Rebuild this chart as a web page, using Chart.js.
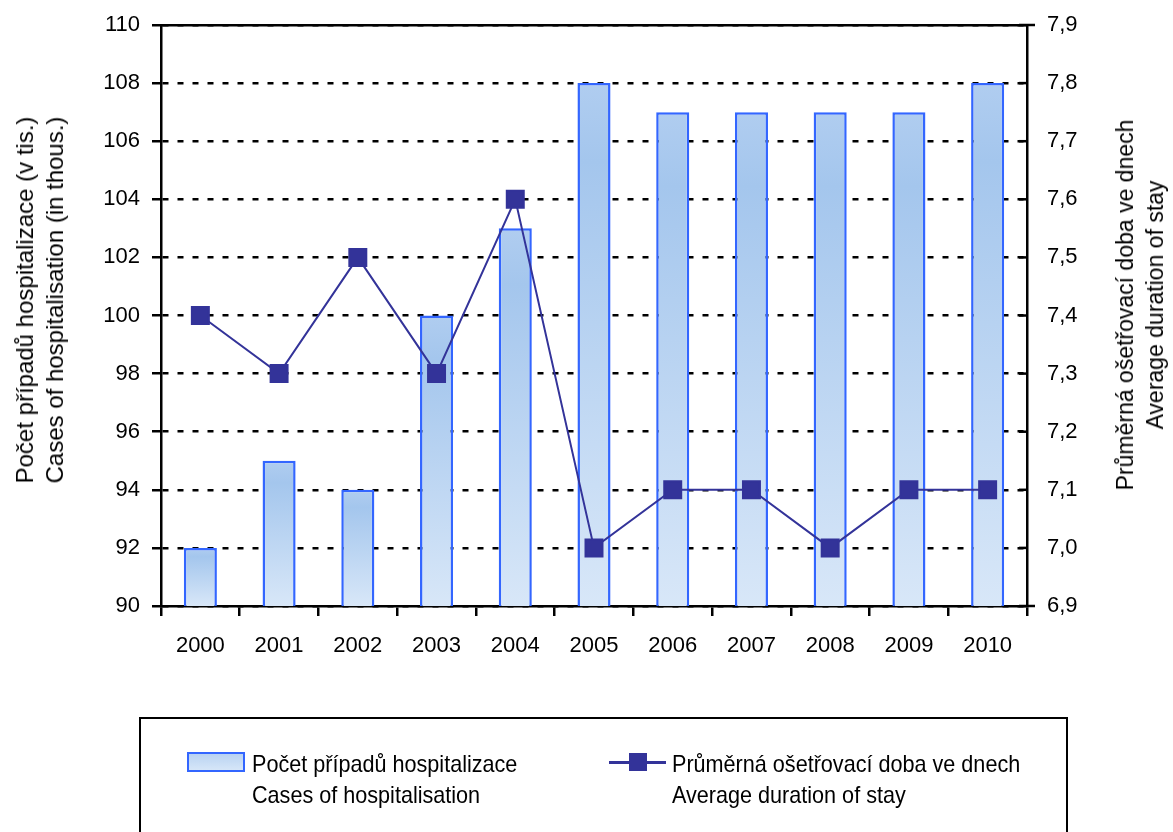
<!DOCTYPE html>
<html>
<head>
<meta charset="utf-8">
<script src="https://cdn.jsdelivr.net/npm/chart.js@4"></script>
<style>
  body { margin: 0; background: #fff; }
  #wrap { position: relative; width: 1173px; height: 832px; font-family: "Liberation Sans", Arial, sans-serif; color: #000; }
  #legend {
    position: absolute; left: 139px; top: 717px; width: 929px; height: 130px;
    border: 2px solid #000; box-sizing: border-box;
  }
  .item { position: absolute; top: 29px; line-height: 31px; font-size: 24px; white-space: nowrap; transform: scaleX(0.9); transform-origin: left top; }
  .sw { position: absolute; }
  .ytitle { position: absolute; white-space: nowrap; text-align: center; line-height: 30px; transform: translate(-50%, -50%) rotate(-90deg); }
</style>
</head>
<body>
<div id="wrap">
  <canvas id="chartHosp" width="1173" height="832"></canvas>
  <div class="ytitle" id="titleLeft" style="left:40px;top:300px;font-size:24px;"></div>
  <div class="ytitle" id="titleRight" style="left:1140px;top:305px;font-size:23px;"></div>
  <div id="legend">
    <div class="sw" style="left:46px;top:33px;width:54px;height:16px;border:2px solid #3366ff;background:linear-gradient(#b9d3f2,#d6e6f8);"></div>
    <div class="item" id="legCases" style="left:111px;"></div>
    <div class="sw" style="left:468px;top:42px;width:57px;height:3px;background:#333399;"></div>
    <div class="sw" style="left:488px;top:34px;width:18px;height:18px;background:#333399;"></div>
    <div class="item" id="legStay" style="left:531px;"></div>
  </div>
</div>
<script>
/* Hospitalizace */
const years = ['2000', '2001', '2002', '2003', '2004', '2005', '2006', '2007', '2008', '2009', '2010'];
const cases = [92, 95, 94, 100, 103, 108, 107, 107, 107, 107, 108];
const avgStay = [7.4, 7.3, 7.5, 7.3, 7.6, 7.0, 7.1, 7.1, 7.0, 7.1, 7.1];
const casesTitle = ['Počet případů hospitalizace (v tis.)', 'Cases of hospitalisation (in thous.)'];
const stayTitle = ['Průměrná ošetřovací doba ve dnech', 'Average duration of stay'];
const casesLegend = ['Počet případů hospitalizace', 'Cases of hospitalisation'];
const stayLegend = ['Průměrná ošetřovací doba ve dnech', 'Average duration of stay'];

document.getElementById('titleLeft').innerHTML = casesTitle.join('<br>');
document.getElementById('titleRight').innerHTML = stayTitle.join('<br>');
document.getElementById('legCases').innerHTML = casesLegend.join('<br>');
document.getElementById('legStay').innerHTML = stayLegend.join('<br>');

Chart.defaults.font.family = '"Liberation Sans", Arial, sans-serif';
Chart.defaults.font.size = 22;
Chart.defaults.color = '#000';

barFill = (c) => {
  const chart = c.chart;
  const y = chart.scales.y;
  if (!y || c.raw === undefined) return '#c0d8f4';
  const top = y.getPixelForValue(c.raw);
  const bottom = y.getPixelForValue(y.min);
  if (!isFinite(top) || !isFinite(bottom) || top === bottom) return '#c0d8f4';
  const g = chart.ctx.createLinearGradient(0, top, 0, bottom);
  g.addColorStop(0, '#b0cdf0');
  g.addColorStop(0.15, '#a4c6ed');
  g.addColorStop(1, '#d8e7f8');
  return g;
};

/* marcas del eje derecho (hacia dentro, las extremas cruzan) */
rightTicks = {
  id: 'rightTicks',
  afterDraw: (chart) => {
    const s = chart.scales.y1;
    const c = chart.ctx;
    c.save();
    c.strokeStyle = '#000';
    c.lineWidth = 2.5;
    s.ticks.forEach((t, i) => {
      const py = s.getPixelForValue(t.value);
      const edge = i === 0 || i === s.ticks.length - 1;
      c.beginPath();
      c.moveTo(s.left - 8, py);
      c.lineTo(s.left + (edge ? 8 : 0), py);
      c.stroke();
    });
    c.restore();
  },
};

const ctx = document.getElementById('chartHosp').getContext('2d');
const chartHosp = new Chart(ctx, {
  data: {
    labels: years,
    datasets: [
      {
        type: 'line',
        data: avgStay,
        yAxisID: 'y1',
        borderColor: '#333399',
        backgroundColor: '#333399',
        borderWidth: 2,
        pointStyle: 'rect',
        pointRadius: 12,
        pointHoverRadius: 12,
        tension: 0,
        order: 0,
      },
      {
        type: 'bar',
        data: cases,
        yAxisID: 'y',
        backgroundColor: barFill,
        borderColor: '#3366ff',
        borderWidth: 2.5,
        borderSkipped: 'bottom',
        barPercentage: 0.42,
        categoryPercentage: 1,
        order: 1,
      },
    ],
  },
  options: {
    responsive: false,
    animation: false,
    layout: { padding: 0 },
    scales: {
      x: {
        offset: true,
        grid: { offset: true, drawOnChartArea: false, color: '#000', lineWidth: 2.5, tickLength: 10 },
        border: { color: '#000', width: 2.5 },
        ticks: { padding: 17 },
        afterFit: (s) => { s.height = 226; },
      },
      xTop: {
        position: 'top',
        labels: years,
        grid: { display: false },
        ticks: { display: false },
        border: { color: '#000', width: 2.5 },
        afterFit: (s) => { s.height = 25; },
      },
      y: {
        position: 'left',
        min: 90,
        max: 110,
        ticks: { stepSize: 2, padding: 12, font: { size: 22, lineHeight: 1 } },
        grid: { color: '#000', lineWidth: 2.5, tickLength: 9, tickBorderDash: [] },
        border: { color: '#000', width: 2.5, dash: [6, 9] },
        afterFit: (s) => { s.width = 161; },
      },
      y1: {
        position: 'right',
        min: 6.9,
        max: 7.9,
        ticks: { stepSize: 0.1, padding: 0, font: { size: 22, lineHeight: 1 }, callback: (v) => v.toFixed(1).replace('.', ',') },
        grid: { drawOnChartArea: false, drawTicks: true, tickLength: 20, tickColor: 'rgba(0,0,0,0)' },
        border: { color: '#000', width: 2.5 },
        afterFit: (s) => { s.width = 146; },
      },
    },
    plugins: {
      legend: { display: false },
      tooltip: { enabled: false },
    },
  },
  plugins: [rightTicks],
});
</script>
</body>
</html>
